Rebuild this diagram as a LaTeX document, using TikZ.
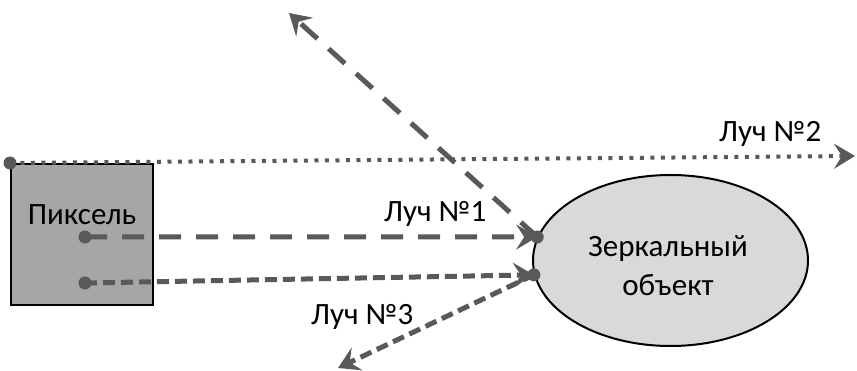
\documentclass[tikz,border=0pt]{standalone}
\usepackage{fontspec}
\setmainfont{Carlito}
\usetikzlibrary{arrows.meta,shapes.geometric}
\definecolor{raygrey}{HTML}{595959}
\definecolor{pixgrey}{HTML}{A6A6A6}
\definecolor{mirrorgrey}{HTML}{D9D9D9}

\begin{document}
\begin{tikzpicture}[x=1pt,y=-1pt,
every node/.style={font=\fontsize{31}{39}\selectfont,inner sep=0pt},
pixbox/.style={draw=black,line width=2pt,fill=pixgrey,minimum width=142pt,minimum height=141pt},
mirrorobj/.style={ellipse,draw=black,line width=2pt,fill=mirrorgrey,minimum width=275pt,minimum height=171pt},
raydot/.style={circle,fill=raygrey,minimum size=13pt},
ray/.style={draw=raygrey,line width=5pt,-{Stealth[length=21pt,width=25pt,inset=8pt]}},
longdash/.style={ray,dash pattern=on 22pt off 15pt},
shortdash/.style={ray,dash pattern=on 12pt off 6pt},
dotline/.style={ray,line width=4pt,dash pattern=on 4pt off 6.5pt}
]
\useasboundingbox (0,0) rectangle (857,371);

\node[pixbox] (pixel) at (82,234.5) {};
\node[anchor=base] (pixlabel) at (82,225) {Пиксель};
\node[mirrorobj] (mirror) at (670.5,260.5) {};
\node[align=center] (mirrorlabel) at (668,266) {Зеркальный\\объект};

\node[raydot] (src1) at (85,237) {};
\node[raydot] (src2) at (pixel.north west) {};
\node[raydot] (src3) at (85,283) {};
\node[raydot] (hit1) at (mirror.170) {};
\node[raydot] (hit3) at (mirror.186) {};
\coordinate (end1) at (289,13);
\coordinate (end2) at (855,156);
\coordinate (end3) at (338,368);

\draw[dotline] (src2.center) -- (end2);
\draw[longdash] (src1.center) -- (hit1.center);
\draw[longdash] (hit1.center) -- (end1);
\draw[shortdash] (src3.center) -- (hit3.center);
\draw[shortdash] (hit3.center) -- (end3);

\node[anchor=base west] (ray1) at (384,222) {Луч №1};
\node[anchor=base west] (ray2) at (719,142) {Луч №2};
\node[anchor=base west] (ray3) at (311,325) {Луч №3};
\end{tikzpicture}
\end{document}
